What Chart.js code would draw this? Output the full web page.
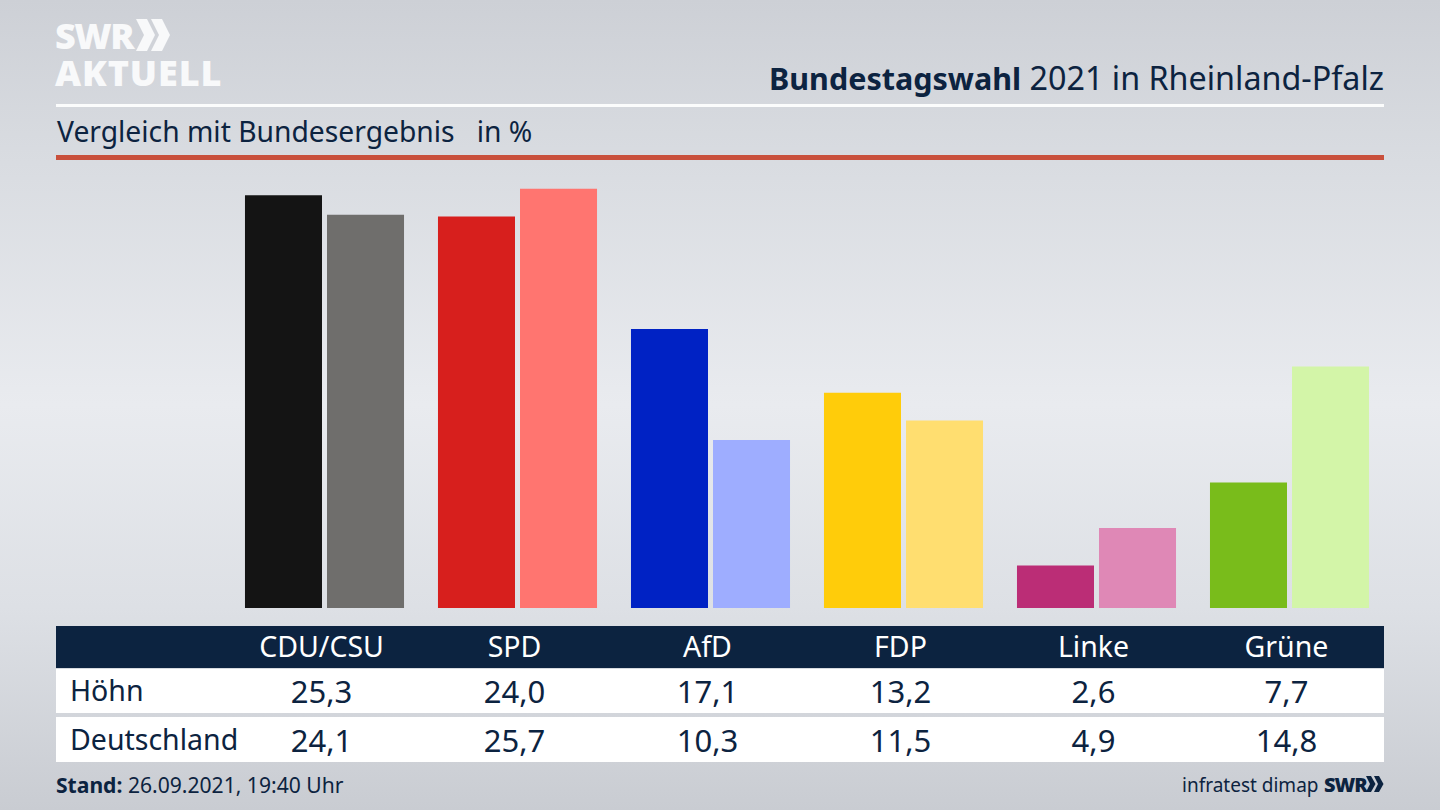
<!DOCTYPE html>
<html>
<head>
    <title>Bundestagswahl 2021 in Rheinland-Pfalz</title>
    <script src="https://cdn.jsdelivr.net/npm/chart.js"></script>
    <style>
        html, body {
            margin: 0;
            padding: 0;
        }
        #bild {
            position: relative;
            width: 1440px;
            height: 810px;
            overflow: hidden;
            font-family: "Noto Sans", sans-serif;
            color: #0c2340;
            background: linear-gradient(180deg, #cdd0d6 0%, #d9dce1 20%, #e9ebef 50%, #dde0e5 75%, #c9ccd2 100%);
        }
        #bild div {
            position: absolute;
            white-space: nowrap;
        }
        #grafik {
            position: absolute;
            left: 228px;
            top: 170px;
        }
        .logo {
            color: #f8f9fa;
            font-weight: 800;
            font-family: "Open Sans", sans-serif;
        }
        .linie {
            left: 56px;
            width: 1328px;
        }
        .spalte {
            width: 193px;
            text-align: center;
        }
    </style>
</head>
<body>
<div id="bild">
    <div class="logo" style="left:55px; top:11px; font-size:36px; letter-spacing:-1.5px;">SWR</div>
    <svg style="position:absolute; left:136px; top:19px;" width="36" height="33">
        <path d="M0 0 L11 0 L19 16 L11 32 L0 32 L8 16 Z M15 0 L26 0 L34 16 L26 32 L15 32 L23 16 Z" fill="#f8f9fa"/>
    </svg>
    <div class="logo" style="left:55px; top:48px; font-size:36px; letter-spacing:0.9px;">AKTUELL</div>

    <div style="right:56px; top:55px; font-size:32.3px;"><b style="font-size:30.5px;">Bundestagswahl</b> 2021 in Rheinland-Pfalz</div>
    <div class="linie" style="top:104px; height:3px; background:#fbfcfc;"></div>
    <div style="left:57px; top:112px; font-size:28.25px; white-space:pre;">Vergleich mit Bundesergebnis   in %</div>
    <div class="linie" style="top:155px; height:5px; background:#c9503c;"></div>

    <div class="linie" style="top:626px; height:42px; background:#0c2340;"></div>
    <div class="linie" style="top:669px; height:44px; background:#ffffff;"></div>
    <div class="linie" style="top:717px; height:45px; background:#ffffff;"></div>
    <div id="tabelle"></div>

    <div style="left:56px; top:770px; font-size:21.1px;"><b>Stand:</b> 26.09.2021, 19:40 Uhr</div>
    <div style="left:1182px; top:772px; font-size:19px;">infratest dimap</div>
    <div style="left:1324px; top:771px; font-size:20px; font-weight:800; font-family:'Open Sans', sans-serif; letter-spacing:-1px;">SWR</div>
    <svg style="position:absolute; left:1366px; top:776px;" width="19" height="17">
        <path d="M0 0 L5 0 L9.5 8 L5 16 L0 16 L4 8 Z M8 0 L13 0 L17.5 8 L13 16 L8 16 L12 8 Z" fill="#0c2340"/>
    </svg>

    <canvas id="grafik" width="1158" height="438"></canvas>
</div>

<script>
    const parteien = ['CDU/CSU', 'SPD', 'AfD', 'FDP', 'Linke', 'Grüne'];
    const hoehn = [25.3, 24.0, 17.1, 13.2, 2.6, 7.7];
    const deutschland = [24.1, 25.7, 10.3, 11.5, 4.9, 14.8];
    const farbenHoehn = ['#141414', '#d71f1d', '#0022c4', '#ffcc0a', '#bb2d76', '#79bc1b'];
    const farbenDeutschland = ['#6f6e6c', '#ff7570', '#9eadff', '#ffde70', '#df88b6', '#d3f5a8'];

    // Tabelle unter dem Diagramm
    const tabelle = document.getElementById('tabelle');

    function zelle(text, links, oben, groesse, farbe, klasse) {
        const el = document.createElement('div');
        el.textContent = text;
        el.style.left = links + 'px';
        el.style.top = oben + 'px';
        el.style.fontSize = groesse + 'px';
        el.style.color = farbe;
        if (klasse) el.className = klasse;
        tabelle.appendChild(el);
    }

    function zahl(wert) {
        return wert.toFixed(1).replace('.', ',');
    }

    zelle('Höhn', 70, 671, 28.5, '#0c2340');
    zelle('Deutschland', 70, 720, 28.5, '#0c2340');
    parteien.forEach((partei, i) => {
        const links = 225 + i * 193;
        zelle(partei, links, 627, 28.5, '#ffffff', 'spalte');
        zelle(zahl(hoehn[i]), links, 670, 31, '#0c2340', 'spalte');
        zelle(zahl(deutschland[i]), links, 719, 31, '#0c2340', 'spalte');
    });

    new Chart(document.getElementById('grafik'), {
        type: 'bar',
        data: {
            labels: parteien,
            datasets: [
                { label: 'Höhn', data: hoehn, backgroundColor: farbenHoehn },
                { label: 'Deutschland', data: deutschland, backgroundColor: farbenDeutschland }
            ]
        },
        options: {
            responsive: false,
            animation: false,
            categoryPercentage: 0.85,
            barPercentage: 0.939,
            plugins: {
                legend: { display: false },
                tooltip: { enabled: false }
            },
            scales: {
                x: { display: false },
                y: { display: false, min: 0, max: 26.85 }
            }
        }
    });
</script>
</body>
</html>
